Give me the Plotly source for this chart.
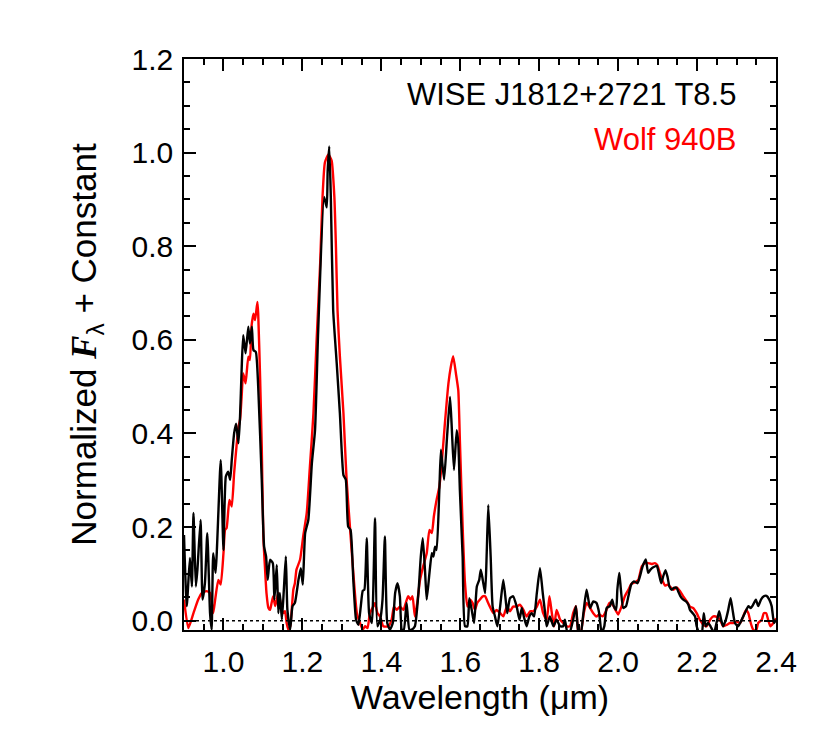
import plotly.graph_objects as go

# WISE J1812+2721 (black) spectrum
wise_wave = [
    0.900, 0.907, 0.915, 0.920, 0.924, 0.930, 0.934, 0.942, 0.947, 0.953,
    0.959, 0.966, 0.970, 0.974, 0.980, 0.993, 1.000, 1.006, 1.012, 1.017,
    1.021, 1.027, 1.032, 1.038, 1.042, 1.046, 1.050, 1.056, 1.063, 1.067,
    1.072, 1.076, 1.082, 1.088, 1.097, 1.103, 1.108, 1.112, 1.118, 1.125,
    1.129, 1.135, 1.139, 1.143, 1.148, 1.153, 1.158, 1.162, 1.169, 1.175,
    1.181, 1.190, 1.196, 1.201, 1.207, 1.215, 1.224, 1.232, 1.240, 1.255,
    1.2617, 1.264, 1.268, 1.272, 1.278, 1.287, 1.295, 1.304, 1.310, 1.316,
    1.322, 1.329, 1.336, 1.342, 1.348, 1.353, 1.357, 1.363, 1.369, 1.376,
    1.384, 1.390,
    1.397, 1.403, 1.409, 1.415, 1.422, 1.429, 1.435, 1.441, 1.447, 1.452,
    1.457, 1.464, 1.471, 1.477, 1.485, 1.494, 1.500, 1.505, 1.511, 1.515,
    1.522, 1.528, 1.532, 1.536, 1.540, 1.547, 1.551, 1.559, 1.566, 1.574,
    1.578, 1.584, 1.591, 1.595, 1.599, 1.606, 1.612, 1.618, 1.623, 1.629,
    1.635, 1.642, 1.648, 1.652, 1.657, 1.663, 1.667, 1.671, 1.677, 1.682,
    1.688, 1.694, 1.701, 1.709, 1.715, 1.719, 1.726, 1.734, 1.743, 1.750,
    1.756, 1.761, 1.768, 1.775, 1.781, 1.787, 1.794, 1.802, 1.809, 1.815,
    1.819, 1.827, 1.836, 1.844, 1.853,
    1.861, 1.865, 1.871, 1.878, 1.886, 1.893, 1.899, 1.905, 1.912, 1.920,
    1.929, 1.937, 1.945, 1.952, 1.958, 1.965, 1.971, 1.979, 1.985, 1.989,
    1.995, 1.998, 2.003, 2.007, 2.013, 2.020, 2.026, 2.033, 2.040, 2.049,
    2.055, 2.062, 2.070, 2.076, 2.082, 2.089, 2.098, 2.103, 2.109, 2.114,
    2.120, 2.125, 2.130, 2.136, 2.141, 2.148, 2.152, 2.158, 2.165, 2.172,
    2.178, 2.182, 2.189, 2.195, 2.199, 2.206, 2.212, 2.217, 2.222, 2.228,
    2.234, 2.243, 2.250, 2.256, 2.261, 2.266, 2.273, 2.279, 2.285, 2.290,
    2.296, 2.304, 2.313, 2.321, 2.330, 2.336, 2.342, 2.349, 2.355, 2.362,
    2.369, 2.376, 2.383, 2.389, 2.395, 2.400,
]
wise_flux = [
    0.183, 0.031, 0.134, 0.073, 0.230, 0.073, 0.109, 0.215, 0.045, 0.080,
    0.187, 0.016, -0.019, 0.144, 0.102, 0.343, 0.151, 0.308, 0.318, 0.301,
    0.343, 0.400, 0.421, 0.379, 0.436, 0.535, 0.610, 0.571, 0.628, 0.592,
    0.628, 0.578, 0.574, 0.500, 0.301, 0.158, 0.137, 0.087, 0.130, 0.123,
    0.045, 0.119, 0.016, 0.059, 0.002, 0.066, 0.137, 0.023, -0.019, 0.031,
    0.038, 0.087, 0.112, 0.077, 0.187, 0.215, 0.336, 0.407, 0.620, 0.905,
    0.883, 0.960, 1.013, 0.905, 0.663, 0.549, 0.443, 0.311, 0.301, 0.201,
    0.194, 0.087, 0.002, -0.009, 0.031, 0.064, 0.066, 0.176, 0.016, -0.005,
    0.219, -0.012,
    0.002, 0.045, 0.180, -0.005, -0.019, -0.005, 0.059, 0.080, 0.052, -0.019,
    -0.019, 0.038, -0.019, -0.019, -0.012, 0.059, 0.137, 0.176, 0.102, 0.045,
    0.102, 0.144, 0.137, 0.158, 0.151, 0.279, 0.365, 0.301, 0.386, 0.478,
    0.421, 0.322, 0.407, 0.379, 0.279, 0.137, -0.012, -0.012, 0.048, 0.023,
    -0.005, 0.073, 0.087, 0.109, 0.087, 0.059, 0.144, 0.247, 0.137, 0.030,
    0.009, -0.012, 0.030, 0.087, 0.045, 0.016, 0.048, 0.052, 0.030, 0.002,
    0.027, 0.009, -0.012, 0.009, 0.016, 0.009, 0.059, 0.112, 0.059, 0.016,
    -0.012, 0.009, -0.012, 0.002, -0.012,
    -0.012, 0.002, -0.023, -0.023, 0.002, 0.031, -0.023, -0.030, 0.016, 0.066,
    0.027, 0.041, 0.038, 0.016, -0.026, -0.012, 0.027, 0.031, 0.045, 0.031,
    0.023, 0.066, 0.102, 0.066, 0.027, 0.031, 0.052, 0.077, 0.084, 0.080,
    0.094, 0.116, 0.131, 0.102, 0.109, 0.114, 0.117, 0.102, 0.080, 0.094,
    0.108, 0.094, 0.073, 0.066, 0.070, 0.070, 0.063, 0.052, 0.045, 0.041,
    0.034, 0.023, 0.016, 0.009, -0.012, -0.026, -0.026, 0.016, -0.012, -0.005,
    -0.012, -0.026, -0.002, 0.020, 0.002, -0.012, 0.002, 0.023, 0.048, 0.023,
    -0.005, -0.012, 0.002, 0.016, 0.031, 0.027, 0.034, 0.045, 0.031, 0.045,
    0.052, 0.053, 0.045, 0.031, -0.005, 0.002,
]

# Wolf 940B (red) comparison spectrum
wolf_wave = [
    0.900, 0.911, 0.924, 0.936, 0.945, 0.957, 0.966, 0.974, 0.979, 0.987,
    0.993, 1.000, 1.004, 1.008, 1.015, 1.021, 1.027, 1.033, 1.038, 1.042,
    1.046, 1.050, 1.056, 1.063, 1.067, 1.071, 1.076, 1.080, 1.086, 1.088,
    1.093, 1.097, 1.101, 1.105, 1.109, 1.114, 1.118, 1.122, 1.126, 1.131,
    1.135, 1.139, 1.143, 1.148, 1.152, 1.156, 1.160, 1.164, 1.169, 1.173,
    1.177, 1.181, 1.185, 1.194, 1.202, 1.211, 1.219, 1.228, 1.236, 1.245,
    1.251, 1.257, 1.266, 1.274, 1.281, 1.285, 1.289, 1.295, 1.304, 1.312,
    1.321, 1.329, 1.338, 1.346, 1.353, 1.359, 1.365, 1.371, 1.380, 1.384,
    1.390,
    1.397, 1.405, 1.418, 1.426, 1.432, 1.439, 1.447, 1.456, 1.462, 1.468,
    1.474, 1.479, 1.485, 1.491, 1.498, 1.506, 1.515, 1.522, 1.528, 1.533,
    1.540, 1.547, 1.553, 1.561, 1.570, 1.576, 1.582, 1.589, 1.595, 1.599,
    1.606, 1.612, 1.618, 1.625, 1.631, 1.637, 1.643, 1.650, 1.657, 1.663,
    1.669, 1.675, 1.684, 1.692, 1.701, 1.709, 1.718, 1.726, 1.734, 1.743,
    1.751, 1.760, 1.768, 1.777, 1.785, 1.794, 1.802, 1.810, 1.819, 1.826,
    1.832, 1.838, 1.844, 1.853,
    1.861, 1.870, 1.878, 1.886, 1.893, 1.899, 1.905, 1.913, 1.920, 1.929,
    1.937, 1.945, 1.952, 1.961, 1.969, 1.978, 1.986, 1.995, 2.000, 2.009,
    2.017, 2.026, 2.034, 2.043, 2.051, 2.060, 2.068, 2.076, 2.085, 2.093,
    2.099, 2.106, 2.113, 2.119, 2.125, 2.131, 2.140, 2.148, 2.157, 2.165,
    2.174, 2.182, 2.190, 2.199, 2.207, 2.216, 2.224, 2.233, 2.241, 2.250,
    2.258, 2.266, 2.275, 2.283, 2.292, 2.300, 2.309, 2.317, 2.324, 2.330,
    2.336, 2.342, 2.349, 2.355, 2.364, 2.369, 2.375, 2.380, 2.386, 2.393,
    2.400,
]
wolf_flux = [
    0.045, -0.016, 0.016, 0.045, 0.059, 0.063, 0.059, 0.016, 0.045, 0.087,
    0.077, 0.144, 0.194, 0.198, 0.258, 0.244, 0.315, 0.372, 0.414, 0.429,
    0.478, 0.528, 0.507, 0.564, 0.557, 0.628, 0.656, 0.642, 0.681, 0.656,
    0.514, 0.372, 0.180, 0.116, 0.059, 0.027, 0.023, 0.038, 0.052, 0.031,
    0.045, 0.059, 0.045, 0.023, 0.016, 0.020, -0.005, -0.019, -0.012, 0.023,
    0.066, 0.080, 0.109, 0.130, 0.180, 0.230, 0.329, 0.443, 0.599, 0.763,
    0.905, 0.979, 0.996, 0.983, 0.905, 0.798, 0.663, 0.564, 0.443, 0.301,
    0.194, 0.102, 0.016, -0.005, -0.019, -0.012, -0.016, 0.016, 0.031, 0.038,
    0.016,
    0.009, -0.012, -0.012, 0.002, 0.030, 0.023, 0.030, 0.023, 0.038, 0.052,
    0.045, 0.052, 0.009, 0.038, 0.087, 0.116, 0.144, 0.194, 0.187, 0.222,
    0.258, 0.286, 0.336, 0.421, 0.507, 0.542, 0.565, 0.528, 0.492, 0.386,
    0.201, 0.080, 0.030, 0.045, 0.038, 0.023, 0.038, 0.045, 0.052, 0.052,
    0.041, 0.030, 0.016, 0.023, 0.016, 0.009, 0.030, 0.020, 0.030, 0.030,
    0.034, 0.023, 0.009, 0.020, 0.020, 0.030, 0.045, 0.016, 0.002, 0.052,
    0.016, -0.012, 0.023, 0.002,
    -0.005, -0.012, -0.012, 0.016, 0.031, -0.023, -0.026, 0.016, 0.038, 0.027,
    0.016, 0.009, 0.013, 0.009, 0.020, 0.038, 0.034, 0.020, 0.013, 0.031,
    0.052, 0.066, 0.079, 0.082, 0.087, 0.116, 0.123, 0.123, 0.121, 0.123,
    0.119, 0.101, 0.084, 0.075, 0.077, 0.073, 0.066, 0.071, 0.063, 0.052,
    0.041, 0.030, 0.027, 0.016, 0.002, -0.009, -0.012, 0.002, 0.009, 0.008,
    0.002, -0.012, -0.009, -0.005, -0.005, -0.002, -0.005, 0.009, 0.023, 0.016,
    -0.005, -0.019, -0.023, -0.005, 0.002, 0.016, 0.016, 0.002, -0.012, -0.005,
    0.005,
]

x_ticks = [1.0, 1.2, 1.4, 1.6, 1.8, 2.0, 2.2, 2.4]
y_ticks = [0.0, 0.2, 0.4, 0.6, 0.8, 1.0, 1.2]

FONT = "Liberation Sans, Arial, Helvetica, sans-serif"

fig = go.Figure()

fig.add_trace(go.Scatter(
    x=wolf_wave, y=wolf_flux, mode="lines",
    line=dict(color="#ff0000", width=2.4, shape="spline", smoothing=0.5),
    showlegend=False, hoverinfo="skip",
))
fig.add_trace(go.Scatter(
    x=wise_wave, y=wise_flux, mode="lines",
    line=dict(color="#000000", width=2.4, shape="spline", smoothing=0.5),
    showlegend=False, hoverinfo="skip",
))

# zero level
fig.add_hline(y=0, line=dict(color="black", width=1.5, dash="dot"))

fig.add_annotation(
    x=2.304, y=1.125, xref="x", yref="y", text="WISE J1812+2721 T8.5",
    showarrow=False, xanchor="right", yanchor="middle",
    font=dict(family=FONT, size=31, color="black"),
)
fig.add_annotation(
    x=2.304, y=1.027, xref="x", yref="y", text="Wolf 940B",
    showarrow=False, xanchor="right", yanchor="middle",
    font=dict(family=FONT, size=31, color="#ff0000"),
)

axis_common = dict(
    showline=True, linecolor="black", linewidth=1.5, mirror="allticks",
    ticks="inside", ticklen=12, tickwidth=1.5, tickcolor="black",
    showgrid=False, zeroline=False,
    tickfont=dict(family=FONT, size=30, color="black"),
    minor=dict(ticks="inside", ticklen=6, tickwidth=1.5, tickcolor="black",
               dtick=0.05, showgrid=False),
)

fig.update_xaxes(
    range=[0.9, 2.4], tickvals=x_ticks, ticktext=[f"{v:.1f}" for v in x_ticks],
    title=dict(text="Wavelength (μm)", font=dict(family=FONT, size=34, color="black"),
               standoff=0),
    ticklabelstandoff=4,
    **axis_common,
)
fig.update_yaxes(
    range=[-0.02, 1.2], tickvals=y_ticks, ticktext=[f"{v:.1f}" for v in y_ticks],
    title=dict(text='Normalized <span style="font-family:Liberation Serif, Times New Roman, serif"><b><i>F</i></b></span><sub>λ</sub> + Constant',
               font=dict(family=FONT, size=35, color="black"), standoff=24),
    ticklabelstandoff=3,
    **axis_common,
)

fig.update_layout(
    width=830, height=748,
    margin=dict(l=176, r=62, t=51, b=126),
    paper_bgcolor="white", plot_bgcolor="white",
    font=dict(family=FONT, color="black"),
)

fig.write_html("out.html")
